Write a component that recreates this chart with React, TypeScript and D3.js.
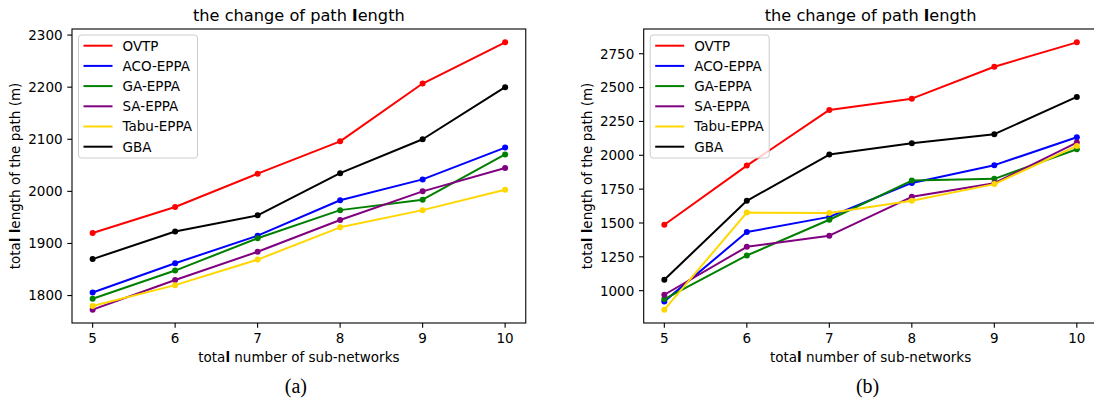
import * as d3 from 'd3';

// x positions (number of sub-networks)
const xValues = [5, 6, 7, 8, 9, 10];
const seriesNames = ['OVTP', 'ACO-EPPA', 'GA-EPPA', 'SA-EPPA', 'Tabu-EPPA', 'GBA'];

// panel (a)
const leftOVTP = [1920, 1970, 2034, 2096, 2207, 2286];
const leftACO = [1806, 1862, 1915, 1983, 2023, 2084];
const leftGA = [1794, 1848, 1910, 1964, 1984, 2071];
const leftSA = [1773, 1830, 1884, 1945, 2000, 2045];
const leftTabu = [1780, 1820, 1869, 1931, 1964, 2003];
const leftGBA = [1870, 1923, 1954, 2035, 2100, 2200];
const leftTicks = [1800, 1900, 2000, 2100, 2200, 2300];

// panel (b)
const rightOVTP = [1487, 1924, 2335, 2418, 2654, 2834];
const rightACO = [921, 1433, 1545, 1796, 1927, 2133];
const rightGA = [938, 1260, 1524, 1813, 1826, 2045];
const rightSA = [970, 1324, 1406, 1693, 1794, 2094];
const rightTabu = [860, 1577, 1573, 1664, 1787, 2069];
const rightGBA = [1081, 1664, 2005, 2089, 2156, 2431];
const rightTicks = [1000, 1250, 1500, 1750, 2000, 2250, 2500, 2750];

const chartTitle = 'the change of path length';
const xLabel = 'total number of sub-networks';
const yLabel = 'total length of the path (m)';
const panelTags = ['(a)', '(b)'];

const colors = ['#ff0000', '#0000ff', '#008000', '#800080', '#ffd700', '#000000'];
const FONT = '"DejaVu Sans", sans-serif';

// the source pdf renders every "l" heavier
function boldL(s: string) {
  return s.split(/(l)/).map((p, i) =>
    p === 'l' ? <tspan key={i} fontWeight="bold">l</tspan> : p
  );
}

function Panel({ left, series, ticks, tag }: { left: number; series: number[][]; ticks: number[]; tag: string }) {
  const top = 29;
  const height = 294;
  const width = 453.75;
  const bottom = top + height;

  const x = d3.scaleLinear().domain([4.75, 10.25]).range([left, left + width]);
  const [lo, hi] = d3.extent(series.flat()) as [number, number];
  const pad = (hi - lo) * 0.05;
  const y = d3.scaleLinear().domain([lo - pad, hi + pad]).range([bottom, top]);

  const line = d3.line<number>()
    .x((d, i) => x(xValues[i]))
    .y(d => y(d));

  const lx = left + 6.5;
  const ly = 35;

  return (
    <g fontFamily={FONT}>
      {series.map((vals, si) => (
        <g key={si}>
          <path d={line(vals) || ''} fill="none" stroke={colors[si]} strokeWidth={2} strokeLinejoin="round" />
          {vals.map((v, i) => (
            <circle key={i} cx={x(xValues[i])} cy={y(v)} r={3} fill={colors[si]} />
          ))}
        </g>
      ))}

      {/* legend */}
      <rect x={lx} y={ly} width={119} height={123} rx={3} fill="#ffffff" fillOpacity={0.8} stroke="#cccccc" strokeWidth={1} />
      {seriesNames.map((name, i) => (
        <g key={name} transform={`translate(${lx},${ly + 10.7 + i * 20.2})`}>
          <line x1={5} x2={34} y1={0} y2={0} stroke={colors[i]} strokeWidth={2} />
          <text x={44} y={0} dy="0.36em" fontSize={13.5} fill="#000">{name}</text>
        </g>
      ))}

      {/* spines */}
      <rect x={left} y={top} width={width} height={height} fill="none" stroke="#000" strokeWidth={1.1} />

      {/* x ticks */}
      {xValues.map(v => (
        <g key={v}>
          <line x1={x(v)} x2={x(v)} y1={bottom} y2={bottom + 4.7} stroke="#000" strokeWidth={1.1} />
          <text x={x(v)} y={343} textAnchor="middle" fontSize={13.5} fill="#000">{v}</text>
        </g>
      ))}

      {/* y ticks */}
      {ticks.map(t => (
        <g key={t}>
          <line x1={left - 4.7} x2={left} y1={y(t)} y2={y(t)} stroke="#000" strokeWidth={1.1} />
          <text x={left - 9.4} y={y(t)} dy="0.36em" textAnchor="end" fontSize={13.5} fill="#000">{t}</text>
        </g>
      ))}

      <text x={left + width / 2} y={21} textAnchor="middle" fontSize={16.2} fill="#000">{boldL(chartTitle)}</text>
      <text x={left + width / 2} y={361.5} textAnchor="middle" fontSize={13.5} fill="#000">{boldL(xLabel)}</text>
      <text transform={`translate(${left - 52},${top + height / 2}) rotate(-90)`} textAnchor="middle" fontSize={13.5} fill="#000">
        {boldL(yLabel)}
      </text>

      <text x={left + width / 2 - 3} y={393} textAnchor="middle" fontSize={20} fontFamily='"Liberation Serif", serif' fill="#000">{tag}</text>
    </g>
  );
}

export default function App() {
  const leftSeries = [leftOVTP, leftACO, leftGA, leftSA, leftTabu, leftGBA];
  const rightSeries = [rightOVTP, rightACO, rightGA, rightSA, rightTabu, rightGBA];
  return (
    <div style={{ position: 'absolute', left: 0, top: 0, width: 1094, height: 414, background: '#fff' }}>
      <svg width={1094} height={414} style={{ display: 'block' }}>
        <rect width={1094} height={414} fill="#fff" />
        <Panel left={72} series={leftSeries} ticks={leftTicks} tag={panelTags[0]} />
        <Panel left={643.7} series={rightSeries} ticks={rightTicks} tag={panelTags[1]} />
      </svg>
    </div>
  );
}
